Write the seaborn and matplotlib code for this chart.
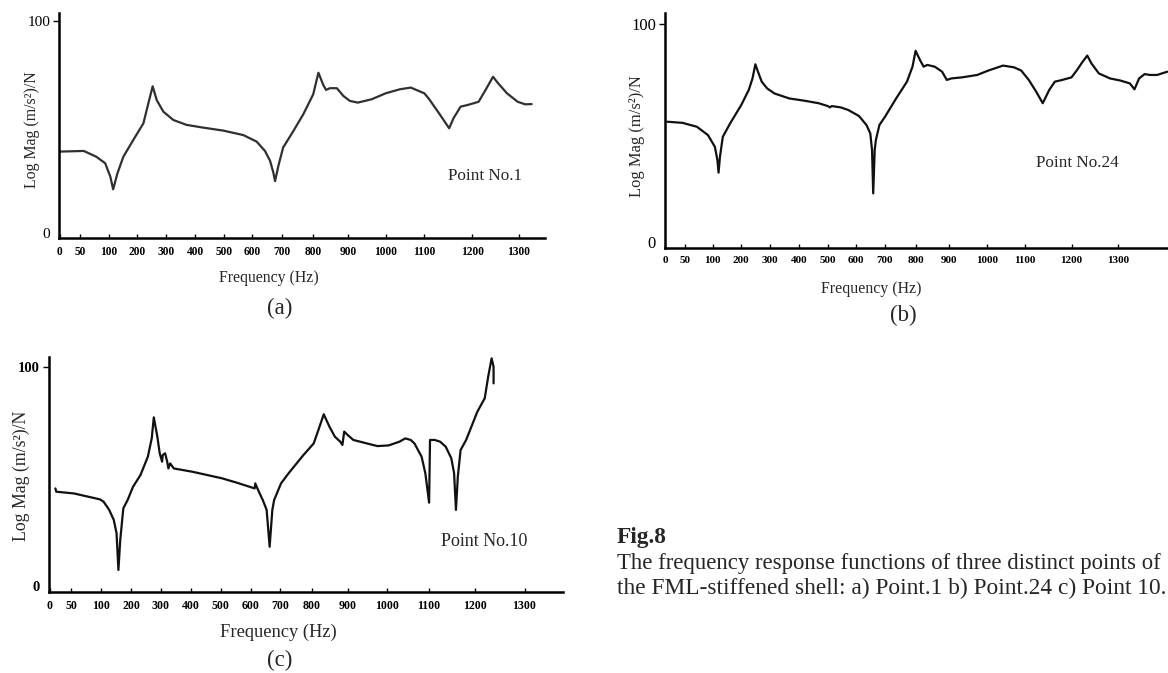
import numpy as np
import matplotlib
matplotlib.use("Agg")
import matplotlib.pyplot as plt
import seaborn as sns

# ---------------- data ----------------
tick_hz = [0, 50, 100, 200, 300, 400, 500, 600, 700, 800, 900, 1000, 1100, 1200, 1300]
tick_labels = [str(t) for t in tick_hz]

a_hz = [0, 56, 78, 94, 106, 116, 131, 152, 187, 222, 239, 254, 268, 291, 325, 370, 427, 496,
        567, 614, 642, 659, 670, 676, 687, 703, 736, 768, 800, 815, 829, 837, 848, 868, 887, 905,
        926, 963, 1000, 1037, 1065, 1079, 1100, 1109, 1131, 1152, 1161, 1176, 1191, 1214, 1229,
        1245, 1256, 1275, 1298, 1314, 1328]
a_mag = [38.4, 38.7, 36.0, 32.9, 26.6, 20.6, 28.1, 36.0, 43.9, 51.7, 61.1, 69.2, 62.7, 57.2,
         53.3, 51.0, 49.7, 48.3, 46.2, 43.1, 38.7, 34.1, 28.6, 24.5, 31.6, 40.3, 48.1, 56.0, 65.4,
         75.6, 69.8, 67.5, 68.3, 68.3, 64.6, 62.3, 61.5, 63.1, 65.9, 67.8, 68.6, 67.5, 65.9, 63.5,
         56.4, 49.4, 54.1, 59.6, 60.4, 61.9, 67.5, 73.7, 70.6, 65.9, 61.9, 60.7, 60.8]

b_hz = [6, 43, 71, 91, 107, 116, 120, 125, 135, 161, 200, 226, 239, 249, 258, 271, 290, 315,
        366, 417, 469, 501, 508, 515, 547, 574, 612, 637, 650, 656, 660, 665, 669, 681, 700, 736,
        771, 789, 799, 812, 823, 834, 856, 878, 892, 905, 934, 974, 1003, 1042, 1071, 1090, 1108,
        1124, 1138, 1152, 1164, 1180, 1200, 1212, 1224, 1234, 1243, 1259, 1283, 1306, 1326, 1336,
        1346, 1358, 1369, 1385, 1407]
b_mag = [55.1, 54.6, 52.8, 49.0, 43.6, 37.5, 31.7, 39.1, 48.2, 54.4, 62.8, 69.7, 75.0, 81.5,
         78.1, 73.5, 70.4, 68.1, 65.8, 64.8, 63.6, 62.3, 61.7, 62.3, 61.7, 60.5, 57.7, 53.6, 49.8,
         42.1, 22.2, 42.1, 46.7, 53.6, 57.4, 65.8, 73.5, 80.4, 87.7, 83.5, 80.4, 81.2, 80.4, 78.1,
         74.3, 75.0, 75.5, 76.6, 78.6, 80.9, 80.1, 78.6, 74.3, 68.9, 63.6, 69.7, 73.5, 74.3, 75.5,
         78.9, 82.7, 85.5, 81.9, 77.3, 75.0, 74.0, 72.7, 70.0, 75.0, 77.0, 76.6, 76.6, 78.1]

c_hz = [13, 15, 55, 99, 110, 128, 143, 152, 158, 164, 174, 188, 206, 231, 256, 269, 276, 288,
        296, 304, 306, 314, 321, 325, 331, 343, 405, 504, 554, 614, 616, 623, 641, 654, 664, 673,
        679, 702, 726, 773, 805, 818, 833, 849, 864, 879, 885, 890, 900, 914, 942, 975, 1003,
        1029, 1043, 1056, 1065, 1082, 1091, 1100, 1102, 1112, 1124, 1136, 1148, 1154, 1158,
        1162, 1168, 1180, 1204, 1219, 1226, 1233, 1237, 1237]
c_mag = [44.5, 43.0, 42.2, 39.5, 38.4, 34.7, 30.1, 24.0, 7.3, 21.0, 35.4, 39.2, 45.3, 50.6,
         59.0, 67.3, 76.9, 68.1, 60.5, 56.7, 59.7, 60.5, 56.7, 53.6, 55.9, 53.6, 52.1, 49.1, 47.1,
         44.5, 46.8, 44.5, 39.2, 34.7, 17.9, 34.7, 39.2, 46.8, 51.4, 59.7, 65.0, 71.1, 78.3, 72.6,
         68.1, 65.8, 64.3, 70.4, 68.8, 66.6, 65.3, 63.8, 64.1, 65.8, 67.3, 66.6, 65.0, 59.0, 51.4,
         38.0, 66.6, 66.6, 65.8, 63.5, 58.2, 51.4, 34.7, 49.8, 62.0, 66.6, 79.5, 85.6, 95.4,
         103.8, 100.0, 92.4]

point_labels = ["Point No.1", "Point No.24", "Point No.10"]
panel_tags = ["(a)", "(b)", "(c)"]
xlabel = "Frequency (Hz)"
ylabel = "Log Mag (m/s\u00b2)/N"
fig_title = "Fig.8"
caption_lines = ["The frequency response functions of three distinct points of",
                 "the FML-stiffened shell: a) Point.1 b) Point.24 c) Point 10."]

# ---------------- style ----------------
sns.set_style("white")
plt.rcParams["font.family"] = ["Liberation Serif", "DejaVu Serif"]

W, H = 1168, 673
fig = plt.figure(figsize=(W / 100, H / 100), dpi=100)


def make_scale(T, P):
    T = np.asarray(T, float)
    P = np.asarray(P, float)

    def _map(x, A, B):
        x = np.asarray(x, float)
        y = np.interp(x, A, B)
        y = np.where(x < A[0], B[0] + (x - A[0]) * (B[1] - B[0]) / (A[1] - A[0]), y)
        y = np.where(x > A[-1], B[-1] + (x - A[-1]) * (B[-1] - B[-2]) / (A[-1] - A[-2]), y)
        return y

    return (lambda x: _map(x, T, P)), (lambda p: _map(p, P, T))


def px_axes(left, top, right, bottom):
    return fig.add_axes([left / W, 1 - bottom / H, (right - left) / W, (bottom - top) / H])


def ftext(x, y, s, **kw):
    fig.text(x / W, 1 - y / H, s, **kw)


panels = [
    dict(hz=a_hz, mag=a_mag, color="#303030",
         box=(59.3, 13.3, 545, 238), y0=233.0, y100=21.0,
         tickpx=[60, 80.4, 108.6, 137, 166, 195.4, 224.5, 252.5, 282.2, 313.2, 348, 385.7, 424.3, 472.1, 518.6],
         xt_size=8.3, xt_weight="bold", yt_size=11, yt_weight="normal",
         ylab=(32.5, 130, 11.4, "normal"), xlab=(268.5, 278, 11.3), tag=(280, 308),
         pt=(485, 176, 12.3)),
    dict(hz=b_hz, mag=b_mag, color="#111111",
         box=(665, 13.3, 1168, 247.7), y0=241.7, y100=24.0,
         tickpx=[664.8, 685.1, 712.7, 741.1, 769.9, 799, 827.4, 855.4, 884.9, 915.8, 949.4, 987, 1025, 1071.5, 1117.8],
         xt_size=8.0, xt_weight="bold", yt_size=12, yt_weight="normal",
         ylab=(637, 136, 11.9, "normal"), xlab=(871, 289, 11.4), tag=(903, 315),
         pt=(1077, 163, 12.3)),
    dict(hz=c_hz, mag=c_mag, color="#111111",
         box=(49, 356.7, 563, 591.7), y0=586.0, y100=366.7,
         tickpx=[49.9, 71, 100.6, 131.3, 160.9, 190.9, 220.9, 250.5, 280.4, 311.9, 347.8, 387.3, 429.1, 475.4, 524.5],
         xt_size=8.6, xt_weight="bold", yt_size=10.5, yt_weight="bold",
         ylab=(21, 476, 12.8, "normal"), xlab=(278, 632, 13.3), tag=(280, 660),
         pt=(484.5, 542, 13)),
]

for i, p in enumerate(panels):
    left, top, right, bottom = p["box"]
    ax = px_axes(left, top, right, bottom)
    fwd, inv = make_scale(tick_hz, p["tickpx"])
    ax.set_xscale("function", functions=(fwd, inv))

    sns.lineplot(x=p["hz"], y=p["mag"], ax=ax, sort=False, estimator=None,
                 color=p["color"], linewidth=1.6, legend=False)
    for ln in ax.lines:
        ln.set_solid_joinstyle("round")
        ln.set_solid_capstyle("round")

    ax.set_xlim(float(inv(left)), float(inv(right)))
    per = (p["y0"] - p["y100"]) / 100.0
    ax.set_ylim(-(bottom - p["y0"]) / per, 100 + (p["y100"] - top) / per)

    ax.set_xticks(tick_hz)
    ax.set_xticklabels(tick_labels, fontsize=p["xt_size"], fontweight=p["xt_weight"])
    ax.set_yticks([0, 100])
    ax.set_yticklabels(["0", "100"], fontsize=p["yt_size"], fontweight=p["yt_weight"])
    ax.minorticks_off()
    ax.tick_params(axis="x", direction="in", length=3.2, width=1.0, pad=6, colors="black",
                   bottom=True)
    ax.tick_params(axis="y", direction="out", length=4, width=1.0, pad=2.5, colors="black",
                   left=True)
    ax.yaxis.get_major_ticks()[0].tick1line.set_visible(False)

    for s in ["top", "right"]:
        ax.spines[s].set_visible(False)
    for s in ["left", "bottom"]:
        ax.spines[s].set_color("black")
        ax.spines[s].set_linewidth(1.8)
    ax.set_xlabel("")
    ax.set_ylabel("")
    ax.set_facecolor("none")
    ax.grid(False)

    yx, yy, ys, yw = p["ylab"]
    ftext(yx, yy, ylabel, rotation=90, ha="center", va="center", fontsize=ys, fontweight=yw)
    fx, fy, fs = p["xlab"]
    ftext(fx, fy, xlabel, ha="center", va="center", fontsize=fs)
    tx, ty = p["tag"]
    ftext(tx, ty, panel_tags[i], ha="center", va="center", fontsize=16.5)
    px_, py_, ps = p["pt"]
    ftext(px_, py_, point_labels[i], ha="center", va="center", fontsize=ps)

# caption
ftext(617, 538, fig_title, ha="left", va="center", fontsize=16.8, fontweight="bold")
ftext(617, 564, caption_lines[0], ha="left", va="center", fontsize=16.4)
ftext(617, 588, caption_lines[1], ha="left", va="center", fontsize=16.8)

fig.savefig("out.png", dpi=100, facecolor="white")
